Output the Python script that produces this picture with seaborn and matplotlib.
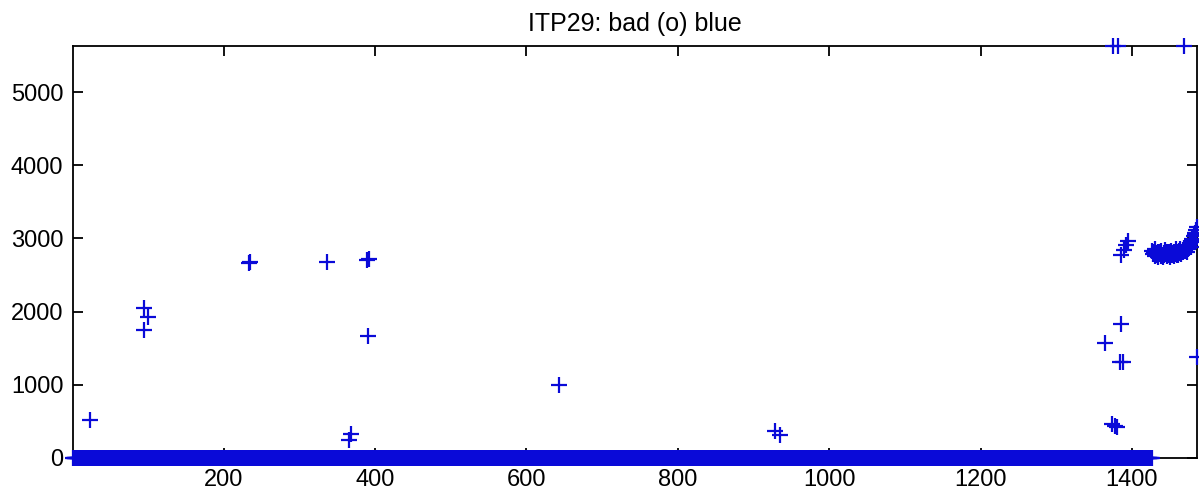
import numpy as np
import pandas as pd
import matplotlib.pyplot as plt
import seaborn as sns

sns.set_style("ticks")
plt.rcParams['font.family'] = ['Liberation Sans', 'DejaVu Sans']
plt.rcParams['text.color'] = 'black'

# profiles flagged with value 0: runs of consecutive profile numbers (start, end)
zero_runs = [(1, 234), (236, 390), (392, 1372), (1374, 1384), (1386, 1393), (1395, 1426)]

# scattered bad values
out_x = [24, 95, 100, 95, 233, 235, 336, 365, 368, 389, 392, 391, 643, 929, 935,
         1365, 1374, 1378, 1380, 1375, 1382, 1385, 1384, 1388,
         1385, 1389, 1392, 1395, 1469, 1486]
out_y = [520, 2050, 1930, 1750, 2670, 2680, 2680, 250, 330, 2700, 2720, 1670, 1000, 370, 320,
         1570, 460, 440, 430, 5630, 5630, 1830, 1310, 1310,
         2770, 2840, 2910, 2960, 5630, 1380]

# dense run at the end of the record
cluster_x = list(range(1427, 1487))
cluster_y = [2830, 2790, 2810, 2760, 2850, 2800, 2770, 2820, 2740, 2790,
             2810, 2760, 2830, 2780, 2750, 2800, 2770, 2840, 2790, 2760,
             2810, 2780, 2820, 2750, 2790, 2830, 2770, 2800, 2760, 2820,
             2790, 2850, 2780, 2810, 2770, 2830, 2800, 2860, 2790, 2820,
             2840, 2810, 2870, 2830, 2850, 2880, 2820, 2860, 2900, 2870,
             2920, 2890, 2950, 2990, 2960, 3030, 3080, 3050, 3110, 3150]

zero_x = [i for a, b in zero_runs for i in range(a, b + 1)]
df = pd.DataFrame({
    'x': zero_x + out_x + cluster_x,
    'y': [0] * len(zero_x) + out_y + cluster_y,
})

fig = plt.figure(figsize=(11.99, 4.96), dpi=100)
ax = fig.add_axes([73 / 1199, 1 - 458 / 496, 1124 / 1199, 412 / 496])

sns.scatterplot(data=df, x='x', y='y', marker='+', s=11.5 ** 2, color='#0a0ad8',
                linewidth=1.6, clip_on=False, zorder=3, ax=ax, legend=False)

ax.set_xlim(1, 1486)
ax.set_ylim(0, 5630)
ax.set_xticks([200, 400, 600, 800, 1000, 1200, 1400])
ax.set_yticks([0, 1000, 2000, 3000, 4000, 5000])
ax.set_xlabel('')
ax.set_ylabel('')
for s in ax.spines.values():
    s.set_visible(True)
    s.set_linewidth(1.3)
    s.set_color('black')
ax.tick_params(direction='in', length=7, width=1.3, top=True, right=True,
               labelsize=17, colors='black')
ax.tick_params(axis='x', pad=8)
ax.tick_params(axis='y', pad=7)
ax.set_title('ITP29: bad (o) blue', fontsize=18, pad=11, color='black')

fig.savefig('out.png', dpi=100)
